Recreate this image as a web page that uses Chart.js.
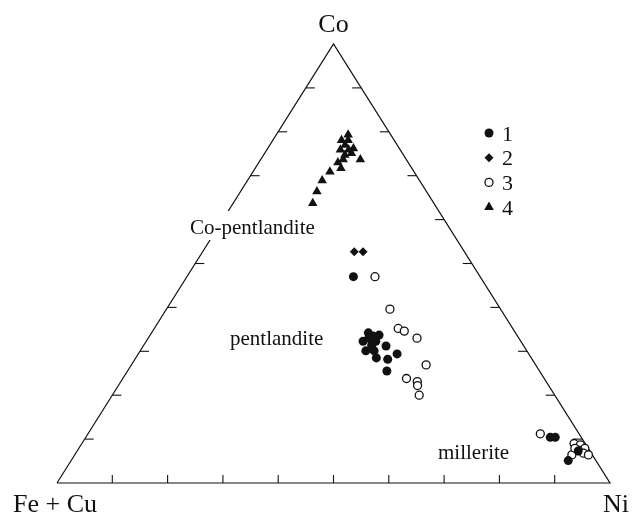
<!DOCTYPE html>
<html>
<head>
<meta charset="utf-8">
<script src="https://cdn.jsdelivr.net/npm/chart.js@4.4.1/dist/chart.umd.min.js"></script>
<style>
  body { margin: 0; background: #fff; }
  #wrapper { width: 637px; height: 515px; }
</style>
</head>
<body>
<div id="wrapper"><canvas id="chart"></canvas></div>
<script>
// compositions in %, Fe + Cu is the rest up to 100
let co1 = [47.0, 34.2, 33.5, 33.7, 32.3, 32.3, 31.4, 30.1, 30.1, 28.5, 31.2, 28.2, 29.4, 25.5, 33.0, 10.4, 10.4, 5.1, 7.3]
let ni1 = [30.1, 39.2, 40.4, 41.4, 39.2, 41.5, 41.2, 40.8, 42.3, 43.5, 43.9, 45.7, 46.8, 46.9, 39.9, 84.0, 84.9, 89.9, 90.6]

let co2 = [52.7, 52.7]
let ni2 = [27.4, 29.0]

let co3 = [47.0, 39.6, 35.2, 34.6, 33.0, 26.9, 23.8, 23.1, 22.2, 20.0, 11.2, 6.4, 9.0, 8.7, 7.9, 7.5, 6.8, 6.4, 7.9]
let ni3 = [34.0, 40.4, 44.1, 45.5, 48.6, 53.3, 51.3, 53.6, 54.1, 55.5, 81.8, 89.9, 89.0, 90.3, 91.5, 90.5, 91.8, 92.9, 89.7]

let co4 = [63.7, 66.4, 68.9, 70.9, 71.7, 73.0, 73.7, 73.7, 75.1, 75.9, 77.0, 78.1, 78.1, 76.2, 75.9, 79.3, 74.7]
let ni4 = [14.4, 13.8, 13.5, 13.9, 15.5, 14.3, 14.9, 18.0, 15.7, 13.3, 13.6, 13.6, 12.4, 15.5, 14.8, 13.0, 14.7]

let legendLabels = ["1", "2", "3", "4"]
let cornerLabels = ["Fe + Cu", "Ni", "Co"]
let fieldLabels = ["Co-pentlandite", "pentlandite", "millerite"]
let tickSteps = [1, 2, 3, 4, 5, 6, 7, 8, 9]

const serif = '"Liberation Serif", "Times New Roman", serif'

// ternary -> cartesian (Fe+Cu at 0,0 / Ni at 1,0 / Co at 0.5,1)
function toXY(co, ni) {
  return co.map(function(c, i) {
    return { x: ni[i] / 100 + c / 200, y: c / 100 }
  })
}

function drawMarker(ctx, style, x, y) {
  ctx.save()
  ctx.fillStyle = '#111'
  ctx.strokeStyle = '#111'
  ctx.lineWidth = 1.3
  ctx.beginPath()
  if (style === 'circle') {
    ctx.arc(x, y, 4.5, 0, Math.PI * 2)
    ctx.fill()
  } else if (style === 'open') {
    ctx.arc(x, y, 4, 0, Math.PI * 2)
    ctx.fillStyle = '#fff'
    ctx.fill()
    ctx.stroke()
  } else if (style === 'diamond') {
    ctx.moveTo(x, y - 4.5); ctx.lineTo(x + 4.5, y); ctx.lineTo(x, y + 4.5); ctx.lineTo(x - 4.5, y)
    ctx.closePath()
    ctx.fill()
  } else {
    ctx.moveTo(x, y - 5.5); ctx.lineTo(x + 4.8, y + 2.8); ctx.lineTo(x - 4.8, y + 2.8)
    ctx.closePath()
    ctx.fill()
  }
  ctx.restore()
}

// ticks along the three sides
const ternaryTicks = {
  id: 'ternaryTicks',
  beforeDatasetsDraw(chart) {
    let ctx = chart.ctx
    let xs = chart.scales.x, ys = chart.scales.y
    ctx.save()
    ctx.strokeStyle = '#111'
    ctx.lineWidth = 1.1
    tickSteps.forEach((k) => {
      let f = k / 10
      // bottom side
      let bx = xs.getPixelForValue(f), by = ys.getPixelForValue(0)
      ctx.beginPath(); ctx.moveTo(bx, by); ctx.lineTo(bx, by - 8); ctx.stroke()
      // left side
      let lx = xs.getPixelForValue(f / 2), ly = ys.getPixelForValue(f)
      ctx.beginPath(); ctx.moveTo(lx, ly); ctx.lineTo(lx + 9, ly); ctx.stroke()
      // right side
      let rx = xs.getPixelForValue(1 - f / 2), ry = ys.getPixelForValue(f)
      ctx.beginPath(); ctx.moveTo(rx, ry); ctx.lineTo(rx - 9, ry); ctx.stroke()
    })
    ctx.restore()
  }
}

// corner names, field names and the legend
const ternaryText = {
  id: 'ternaryText',
  afterDatasetsDraw(chart) {
    let ctx = chart.ctx
    let xs = chart.scales.x, ys = chart.scales.y
    ctx.save()
    ctx.fillStyle = '#111'
    ctx.textBaseline = 'alphabetic'

    ctx.font = '26px ' + serif
    ctx.textAlign = 'left'
    ctx.fillText(cornerLabels[0], 13, 512)
    ctx.textAlign = 'right'
    ctx.fillText(cornerLabels[1], 629, 512)
    ctx.textAlign = 'center'
    ctx.fillText(cornerLabels[2], xs.getPixelForValue(0.5), 32)

    ctx.font = '21px ' + serif
    ctx.textAlign = 'left'
    // Co-pentlandite sits on the side, white box hides the line under it
    let w = ctx.measureText(fieldLabels[0]).width
    ctx.fillStyle = '#fff'
    ctx.fillRect(188, 211, w + 4, 29)
    ctx.fillStyle = '#111'
    ctx.fillText(fieldLabels[0], 190, 234)
    ctx.fillText(fieldLabels[1], 230, 345)
    ctx.fillText(fieldLabels[2], 438, 459)

    let styles = ['circle', 'diamond', 'open', 'triangle']
    ctx.font = '22px ' + serif
    legendLabels.forEach((lab, i) => {
      let y = 133 + i * 24.7
      drawMarker(ctx, styles[i], 489, y)
      ctx.fillStyle = '#111'
      ctx.fillText(lab, 502, y + 7.5)
    })
    ctx.restore()
  }
}

let chart = new Chart('chart', {
  type: 'scatter',
  data: {
    datasets: [
      {
        label: 'outline',
        type: 'line',
        data: [{x: 0, y: 0}, {x: 1, y: 0}, {x: 0.5, y: 1}, {x: 0, y: 0}],
        borderColor: '#111',
        borderWidth: 1.2,
        pointRadius: 0,
        fill: false,
        order: 10
      },
      {
        label: legendLabels[0],
        data: toXY(co1, ni1),
        pointStyle: 'circle',
        pointRadius: 4.5,
        backgroundColor: '#111',
        borderColor: '#111',
        borderWidth: 0,
        order: 1
      },
      {
        label: legendLabels[1],
        data: toXY(co2, ni2),
        pointStyle: 'rectRot',
        pointRadius: 4.5,
        backgroundColor: '#111',
        borderColor: '#111',
        borderWidth: 0,
        order: 2
      },
      {
        label: legendLabels[2],
        data: toXY(co3, ni3),
        pointStyle: 'circle',
        pointRadius: 4,
        backgroundColor: '#fff',
        borderColor: '#111',
        borderWidth: 1.3,
        order: 3
      },
      {
        label: legendLabels[3],
        data: toXY(co4, ni4),
        pointStyle: 'triangle',
        pointRadius: 5.5,
        backgroundColor: '#111',
        borderColor: '#111',
        borderWidth: 0,
        order: 4
      }
    ]
  },
  options: {
    responsive: true,
    maintainAspectRatio: false,
    animation: false,
    clip: false,
    layout: { padding: { left: 57, right: 27, top: 44, bottom: 32 } },
    plugins: { legend: { display: false }, tooltip: { enabled: false } },
    scales: {
      x: { type: 'linear', min: 0, max: 1, display: false },
      y: { type: 'linear', min: 0, max: 1, display: false }
    }
  },
  plugins: [ternaryTicks, ternaryText]
})
</script>
</body>
</html>
